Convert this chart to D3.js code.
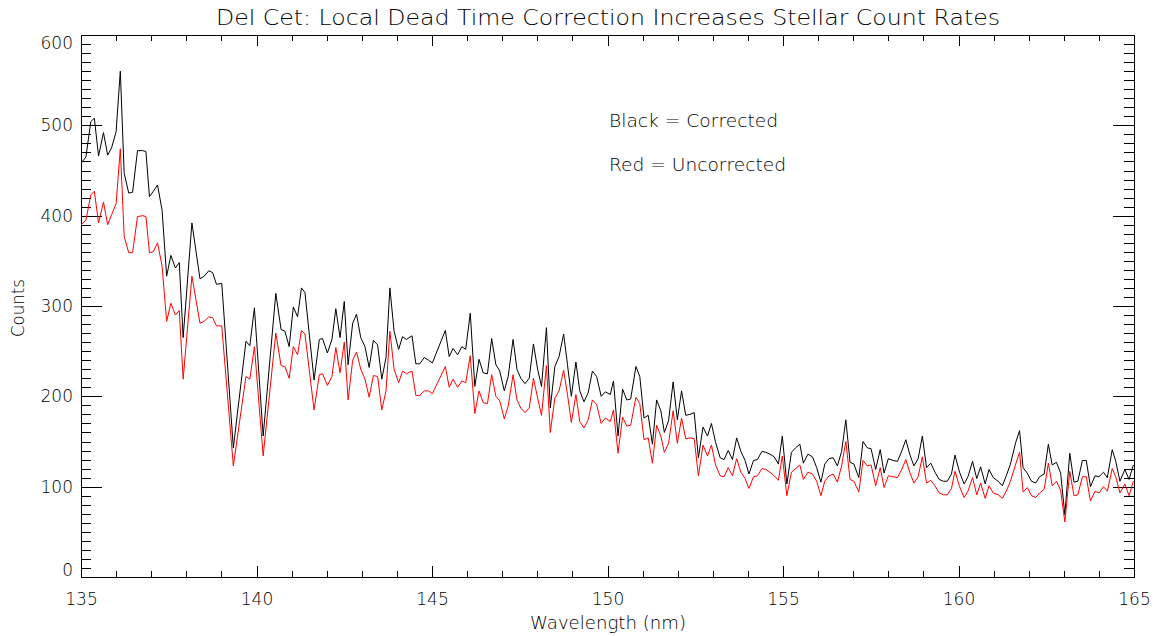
<!DOCTYPE html>
<html>
<head>
<meta charset="utf-8">
<script src="https://cdn.jsdelivr.net/npm/d3@7"></script>
<style>
body { margin: 0; background: #fff; }
text { font-family: "DejaVu Sans ExtraLight", "DejaVu Sans", sans-serif; font-weight: 200; fill: #000; }
</style>
</head>
<body>
<div id="chart"></div>
<script>
// spectrum (nm, counts)
var wavelength = [
  135.00,135.14,135.28,135.38,135.50,135.64,135.76,135.87,136.00,136.12,136.23,136.36,136.47,136.61,136.76,136.85,136.95,137.06,137.18,137.31,
  137.44,137.56,137.69,137.80,137.91,138.16,138.39,138.51,138.64,138.75,138.86,139.01,139.34,139.70,139.81,139.94,140.19,140.55,
  140.70,140.81,140.93,141.05,141.17,141.28,141.38,141.64,141.79,141.88,142.02,142.15,142.26,142.38,142.50,142.61,142.74,142.85,142.97,143.09,
  143.21,143.33,143.45,143.57,143.69,143.80,143.92,144.05,144.16,144.27,144.43,144.54,144.65,144.78,144.90,145.01,145.38,145.49,145.60,145.73,
  145.85,145.96,
  146.09,146.22,146.34,146.46,146.58,146.70,146.82,146.93,147.06,147.17,147.31,147.42,147.53,147.65,147.77,147.89,148.01,148.12,148.26,148.37,
  148.50,148.62,148.75,148.86,148.97,149.10,149.21,149.33,149.45,149.57,149.69,149.82,149.94,150.08,150.17,150.30,150.43,150.55,150.66,150.81,
  150.92,151.04,151.16,151.28,151.40,151.52,
  151.62,151.74,151.87,151.99,152.11,152.23,152.35,152.47,152.59,152.72,152.85,152.96,153.08,153.21,153.32,153.44,153.56,153.68,153.80,153.92,
  154.03,154.16,154.27,154.40,154.51,154.63,154.75,154.87,154.98,155.11,155.24,155.36,155.48,155.58,155.71,155.84,155.96,156.08,156.19,156.31,
  156.43,156.55,156.67,156.79,156.91,157.02,
  157.16,157.28,157.40,157.51,157.64,157.77,157.88,158.00,158.14,158.26,158.37,158.50,158.61,158.73,158.85,158.97,159.09,159.21,159.33,159.45,
  159.57,159.68,159.80,159.90,160.03,160.16,160.27,160.40,160.52,160.63,160.76,160.87,160.99,161.13,
  161.25,161.36,161.48,161.63,161.74,161.84,161.96,162.08,162.20,162.31,162.44,162.56,162.67,162.79,162.91,163.03,163.17,163.29,163.40,163.53,
  163.64,163.76,163.89,164.00,164.13,164.24,164.38,164.48,164.60,164.74,164.86,164.98
];

// black line
var corrected = [
  458,465,504,508,466,492,467,475,493,560,447,425,426,472,472,471,421,427,434,406,
  333,356,342,348,265,392,330,333,339,337,324,325,143,261,256,298,156,314,
  274,272,255,299,288,320,315,218,263,264,248,263,297,265,305,235,281,291,265,255,
  232,262,257,219,243,320,272,252,266,263,267,236,236,243,240,237,273,244,253,246,
  255,252,
  292,211,241,226,225,264,235,228,206,222,263,230,220,214,220,258,230,211,276,187,
  233,244,269,235,200,238,206,194,204,228,222,200,205,202,217,156,208,196,197,233,
  222,176,179,147,196,184,
  160,173,216,174,206,179,180,182,132,166,156,170,149,132,130,140,130,154,139,129,
  114,129,130,139,138,136,133,125,156,103,138,143,147,126,136,133,121,105,125,131,
  132,123,139,174,127,125,
  110,150,143,142,119,141,115,131,129,128,138,152,136,123,131,156,121,126,116,108,
  106,106,114,135,116,103,111,128,109,122,103,119,110,106,
  101,112,125,149,162,121,115,106,104,111,114,147,124,127,115,69,137,105,106,129,
  129,100,112,111,116,110,141,128,106,119,108,124
];

// red line
var uncorrected = [
  390,395,423,427,392,415,390,401,413,474,377,359,359,399,400,399,359,360,370,344,
  283,303,290,295,219,333,281,283,288,287,278,278,123,222,219,255,134,270,
  234,233,220,255,246,273,269,185,224,225,212,222,254,226,260,196,240,249,230,219,
  199,223,222,185,206,272,230,215,228,225,228,201,201,206,206,203,233,210,219,210,
  217,215,
  245,181,206,193,192,224,200,195,175,189,224,196,187,182,187,220,198,179,234,160,
  198,206,229,202,171,202,172,165,174,196,191,170,176,172,185,137,177,167,168,199,
  192,152,154,126,168,156,
  138,148,184,148,176,153,154,153,112,146,134,146,124,112,111,121,112,131,116,109,
  98,111,112,120,119,116,112,107,134,90,116,120,124,108,116,114,106,90,106,112,
  114,105,123,150,108,106,
  94,129,123,124,101,121,99,112,111,110,118,130,116,104,111,133,104,107,101,93,
  91,91,98,117,100,88,95,110,91,104,87,101,93,91,
  87,95,106,125,138,94,99,90,88,93,97,126,101,106,96,61,117,90,91,111,
  111,84,95,93,100,95,120,111,93,103,90,106
];

var xTicks = [135, 140, 145, 150, 155, 160, 165];
var yTicks = [0, 100, 200, 300, 400, 500, 600];
var legendLines = ["Black = Corrected", "Red = Uncorrected"];

//set up margins
var svgWidth = 1156;
var svgHeight = 636;
var margin = {top: 35, right: 21, bottom: 58, left: 81};
var width = 1053;
var height = 542;

var svg = d3.select("#chart")
    .append("svg")
    .attr("width", svgWidth)
    .attr("height", svgHeight);

var chartGroup = svg.append("g")
    .attr("transform", `translate(${margin.left}, ${margin.top})`);

//scales
var xScale = d3.scaleLinear().domain([135, 165]).range([0, width]);
var yScale = d3.scaleLinear().domain([0, 600]).range([height, 0]);

var xMinor = d3.range(135, 166, 1).filter(d => xTicks.indexOf(d) < 0);
var yMinor = d3.range(0, 601, 10).filter(d => yTicks.indexOf(d) < 0);

// minor ticks, all four sides pointing in
chartGroup.append("g").attr("class", "tk")
    .call(d3.axisLeft(yScale).tickValues(yMinor).tickSize(-10).tickFormat(""));
chartGroup.append("g").attr("class", "tk")
    .attr("transform", `translate(${width}, 0)`)
    .call(d3.axisRight(yScale).tickValues(yMinor).tickSize(-10).tickFormat(""));
chartGroup.append("g").attr("class", "tk")
    .attr("transform", `translate(0, ${height})`)
    .call(d3.axisBottom(xScale).tickValues(xMinor).tickSize(-6).tickFormat(""));
chartGroup.append("g").attr("class", "tk")
    .call(d3.axisTop(xScale).tickValues(xMinor).tickSize(-6).tickFormat(""));

// major ticks + labels
var leftAxis = chartGroup.append("g").attr("class", "tk lab")
    .call(d3.axisLeft(yScale).tickValues(yTicks).tickSize(-21).tickPadding(8));
chartGroup.append("g").attr("class", "tk")
    .attr("transform", `translate(${width}, 0)`)
    .call(d3.axisRight(yScale).tickValues(yTicks).tickSize(-21).tickFormat(""));
chartGroup.append("g").attr("class", "tk lab")
    .attr("transform", `translate(0, ${height})`)
    .call(d3.axisBottom(xScale).tickValues(xTicks).tickSize(-11).tickPadding(16));
chartGroup.append("g").attr("class", "tk")
    .call(d3.axisTop(xScale).tickValues(xTicks).tickSize(-11).tickFormat(""));

chartGroup.selectAll(".tk .domain").remove();
chartGroup.selectAll(".tk line").attr("stroke", "#000").attr("shape-rendering", "crispEdges");
chartGroup.selectAll(".lab text")
    .attr("font-family", null)
    .attr("font-size", "17px")
    .attr("fill", "#000");

// IDL pulls the end labels inside the box
leftAxis.selectAll("text")
    .attr("y", d => d === 600 ? 8.5 : (d === 0 ? -6.5 : 0));

// frame
chartGroup.append("rect")
    .attr("x", 0.5)
    .attr("y", 0.5)
    .attr("width", width)
    .attr("height", height)
    .attr("fill", "none")
    .attr("stroke", "#000")
    .attr("shape-rendering", "crispEdges");

//lines
chartGroup.append("clipPath").attr("id", "clip")
    .append("rect").attr("width", width + 1).attr("height", height + 1);

var lineC = d3.line()
    .x((d, i) => xScale(wavelength[i]))
    .y(d => yScale(d));

chartGroup.append("path")
    .datum(corrected)
    .attr("clip-path", "url(#clip)")
    .attr("fill", "none")
    .attr("stroke", "#000")
    .attr("stroke-width", 1)
    .attr("d", lineC);

chartGroup.append("path")
    .datum(uncorrected)
    .attr("clip-path", "url(#clip)")
    .attr("fill", "none")
    .attr("stroke", "#ff0000")
    .attr("stroke-width", 1)
    .attr("d", lineC);

//legend text
chartGroup.selectAll(".legend")
    .data(legendLines)
    .enter()
    .append("text")
    .attr("class", "legend")
    .attr("x", 609 - margin.left)
    .attr("y", (d, i) => 126.5 - margin.top + i * 44.5)
    .attr("font-size", "17px")
    .attr("textLength", (d, i) => i === 0 ? 169 : 177)
    .attr("lengthAdjust", "spacingAndGlyphs")
    .text(d => d);

//title and axis titles
svg.append("text")
    .attr("x", 608)
    .attr("y", 25)
    .attr("text-anchor", "middle")
    .attr("font-size", "21px")
    .attr("textLength", 784)
    .attr("lengthAdjust", "spacingAndGlyphs")
    .text("Del Cet: Local Dead Time Correction Increases Stellar Count Rates");

svg.append("text")
    .attr("x", 608)
    .attr("y", 629)
    .attr("text-anchor", "middle")
    .attr("font-size", "17px")
    .attr("textLength", 156)
    .attr("lengthAdjust", "spacingAndGlyphs")
    .text("Wavelength (nm)");

svg.append("text")
    .attr("transform", "translate(24, 308) rotate(-90)")
    .attr("text-anchor", "middle")
    .attr("font-size", "17px")
    .attr("textLength", 58)
    .attr("lengthAdjust", "spacingAndGlyphs")
    .text("Counts");
</script>
</body>
</html>
